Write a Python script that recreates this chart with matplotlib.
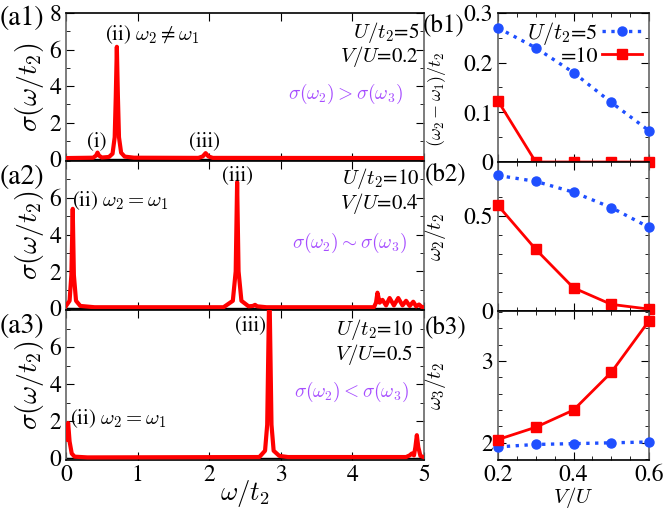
import numpy as np
import matplotlib
matplotlib.use('Agg')
import matplotlib.pyplot as plt
from matplotlib.ticker import MultipleLocator, FuncFormatter

plt.rcParams['font.family'] = ['STIXGeneral', 'DejaVu Serif']
plt.rcParams['mathtext.fontset'] = 'cm'

# ---------------- datos: espectros sigma(w/t2) -----------------
w_a1 = [0.0, 0.38, 0.42, 0.44, 0.46, 0.50, 0.60, 0.65, 0.68, 0.695, 0.71, 0.725,
        0.74, 0.77, 0.82, 0.95, 1.85, 1.91, 1.95, 1.99, 2.05, 5.0]
s_a1 = [0.06, 0.08, 0.20, 0.36, 0.20, 0.09, 0.12, 0.30, 1.20, 3.40, 6.15, 3.40,
        1.20, 0.35, 0.14, 0.08, 0.07, 0.15, 0.33, 0.15, 0.07, 0.06]

w_a2 = [0.0, 0.05, 0.075, 0.094, 0.11, 0.14, 0.20, 0.40, 2.20, 2.33, 2.37, 2.39,
        2.41, 2.45, 2.55, 2.61, 2.64, 2.67, 2.80, 4.30, 4.33, 4.35, 4.38, 4.42,
        4.47, 4.52, 4.58, 4.64, 4.70, 4.75, 4.80, 4.85, 4.89, 4.93, 4.97, 5.0]
s_a2 = [0.12, 0.40, 1.80, 5.40, 1.80, 0.40, 0.12, 0.05, 0.05, 0.40, 2.00, 6.85,
        2.00, 0.40, 0.10, 0.12, 0.18, 0.10, 0.05, 0.05, 0.30, 0.84, 0.30, 0.45,
        0.15, 0.55, 0.15, 0.55, 0.15, 0.40, 0.12, 0.35, 0.10, 0.20, 0.06, 0.05]

w_a3 = [0.0, 0.015, 0.03, 0.05, 0.08, 0.12, 0.30, 2.70, 2.78, 2.81, 2.84, 2.87,
        2.90, 2.98, 3.10, 4.75, 4.80, 4.83, 4.86, 4.88, 4.90, 4.92, 4.95, 5.0]
s_a3 = [1.00, 1.60, 1.90, 0.90, 0.25, 0.08, 0.04, 0.06, 0.40, 1.80, 9.50, 1.80,
        0.40, 0.12, 0.06, 0.06, 0.15, 0.25, 0.15, 0.60, 1.24, 0.60, 0.12, 0.05]

# ---------------- datos: paneles (b) -----------------
VU = [0.2, 0.3, 0.4, 0.5, 0.6]
dw_U5 = [0.27, 0.23, 0.18, 0.12, 0.063]
dw_U10 = [0.123, 0.0, 0.0, 0.0, 0.0]
w2_U5 = [0.714, 0.683, 0.626, 0.545, 0.441]
w2_U10 = [0.556, 0.325, 0.122, 0.035, 0.010]
w3_U5 = [1.95, 1.98, 1.99, 2.00, 2.01]
w3_U10 = [2.04, 2.19, 2.40, 2.86, 3.49]

rojo = '#ff0000'
azul = '#1f4fff'
morado = '#a64dff'

fig = plt.figure(figsize=(6.65, 5.11), dpi=100)

W, H = 665.0, 511.0
def caja(x0, y0, x1, y1):
    return [x0/W, 1-y1/H, (x1-x0)/W, (y1-y0)/H]

fmt = FuncFormatter(lambda v, p: '%g' % round(v, 6))

def estilo(ax):
    ax.tick_params(which='both', direction='in', top=True, right=True, labelsize=17)
    ax.tick_params(which='major', length=6)
    ax.tick_params(which='minor', length=3)
    for s in ['left', 'right']:
        ax.spines[s].set_color('#666666')
    for s in ax.spines.values():
        s.set_linewidth(1.2)

#---------------------- paneles (a) ----------------------
filas = [(13, 161), (161, 310), (310, 460)]
datos_a = [(w_a1, s_a1), (w_a2, s_a2), (w_a3, s_a3)]
ejes_a = []
for i, ((y0, y1), (w, s)) in enumerate(zip(filas, datos_a)):
    ax = fig.add_axes(caja(66, y0, 424, y1))
    ax.plot([0, 5], [0, 0], color='k', lw=1.0, zorder=2)
    ax.plot(w, s, color=rojo, lw=3.0, solid_joinstyle='round', zorder=3)
    ax.set_xlim(0, 5)
    ax.set_ylim(-0.1, 8)
    ax.xaxis.set_major_locator(MultipleLocator(1))
    ax.yaxis.set_major_locator(MultipleLocator(2))
    ax.yaxis.set_minor_locator(MultipleLocator(1))
    ax.yaxis.set_major_formatter(fmt)
    estilo(ax)
    if i < 2:
        ax.set_xticklabels([])
    if i > 0:
        ax.set_yticks([0, 2, 4, 6])
    ax.set_ylabel(r'$\sigma(\omega/t_2)$', fontsize=20, labelpad=2)
    ejes_a.append(ax)

ax1, ax2, ax3 = ejes_a
ax3.set_xlabel(r'$\omega/t_2$', fontsize=19, labelpad=-6)

ax1.text(0.55, 6.8, r'(ii) $\omega_2 \neq \omega_1$', fontsize=15, va='center')
ax1.text(0.43, 1.0, '(i)', fontsize=15, ha='center', va='center')
ax1.text(1.94, 1.0, '(iii)', fontsize=15, ha='center', va='center')
ax1.text(4.93, 6.95, r'$U/t_2$=5', fontsize=15, ha='right', va='center')
ax1.text(4.93, 5.6, r'$V/U$=0.2', fontsize=15, ha='right', va='center')
ax1.text(3.9, 3.55, r'$\sigma(\omega_2) > \sigma(\omega_3)$', fontsize=14,
         color=morado, ha='center', va='center')

ax2.text(0.09, 5.85, r'(ii) $\omega_2 = \omega_1$', fontsize=15, va='center')
ax2.text(2.39, 7.2, '(iii)', fontsize=15, ha='center', va='center')
ax2.text(4.93, 7.05, r'$U/t_2$=10', fontsize=15, ha='right', va='center')
ax2.text(4.93, 5.67, r'$V/U$=0.4', fontsize=15, ha='right', va='center')
ax2.text(3.96, 3.55, r'$\sigma(\omega_2) \sim \sigma(\omega_3)$', fontsize=14,
         color=morado, ha='center', va='center')

ax3.text(0.06, 2.15, r'(ii) $\omega_2 = \omega_1$', fontsize=15, va='center')
ax3.text(2.8, 7.15, '(iii)', fontsize=15, ha='right', va='center')
ax3.text(4.85, 6.95, r'$U/t_2$=10', fontsize=15, ha='right', va='center')
ax3.text(4.85, 5.6, r'$V/U$=0.5', fontsize=15, ha='right', va='center')
ax3.text(3.98, 3.6, r'$\sigma(\omega_2) < \sigma(\omega_3)$', fontsize=14,
         color=morado, ha='center', va='center')

#---------------------- paneles (b) ----------------------
filas_b = [(13, 162), (162, 311), (311, 460)]
series_b = [(dw_U5, dw_U10), (w2_U5, w2_U10), (w3_U5, w3_U10)]
ylims = [(0, 0.3), (0, 0.785), (1.79, 3.61)]
mayores = [0.1, 0.5, 1.0]
menores = [0.05, 0.1, 0.2]
ylabels = [r'$(\omega_2 - \omega_1)/t_2$', r'$\omega_2/t_2$', r'$\omega_3/t_2$']
ejes_b = []
for i, ((y0, y1), (a, b)) in enumerate(zip(filas_b, series_b)):
    ax = fig.add_axes(caja(498, y0, 649, y1))
    ax.plot(VU, a, color=azul, ls=':', lw=2.4, marker='o', ms=6.5,
            clip_on=False, zorder=3, label=r'$U/t_2$=5')
    ax.plot(VU, b, color=rojo, ls='-', lw=2.0, marker='s', ms=6.5,
            clip_on=False, zorder=4, label='=10')
    ax.set_xlim(0.2, 0.6)
    ax.set_ylim(*ylims[i])
    ax.xaxis.set_major_locator(MultipleLocator(0.2))
    ax.xaxis.set_minor_locator(MultipleLocator(0.05))
    ax.yaxis.set_major_locator(MultipleLocator(mayores[i]))
    ax.yaxis.set_minor_locator(MultipleLocator(menores[i]))
    ax.xaxis.set_major_formatter(fmt)
    ax.yaxis.set_major_formatter(fmt)
    estilo(ax)
    if i < 2:
        ax.set_xticklabels([])
    ax.set_ylabel(ylabels[i], fontsize=13 if i == 0 else 15, labelpad=3)
    ejes_b.append(ax)

b1, b2, b3 = ejes_b
b1.set_yticks([0, 0.1, 0.2, 0.3])
b3.set_yticks([2, 3])
b3.set_xlabel(r'$V/U$', fontsize=15, labelpad=0)
b1.legend(loc='upper right', frameon=False, markerfirst=False, fontsize=16,
          handlelength=1.8, handletextpad=0.2, labelspacing=0.0,
          borderaxespad=0.1, borderpad=0.2)
for t in b1.get_legend().get_texts():
    t.set_ha('right')

# ylabels de (b) alineados
for ax in ejes_b:
    ax.yaxis.set_label_coords(-0.33, 0.5)
b1.yaxis.set_label_coords(-0.33, 0.42)
b3.xaxis.set_label_coords(0.5, -0.17)

# etiquetas de panel
for txt, x, y in [('(a1)', 0, 18), ('(a2)', 0, 177), ('(a3)', 0, 326)]:
    fig.text(x/W, 1-y/H, txt, fontsize=20, ha='left', va='center')
for txt, x, y in [('(b1)', 423, 25), ('(b2)', 425, 174), ('(b3)', 425, 327)]:
    fig.text(x/W, 1-y/H, txt, fontsize=18, ha='left', va='center')

fig.savefig('out.png', dpi=100)
